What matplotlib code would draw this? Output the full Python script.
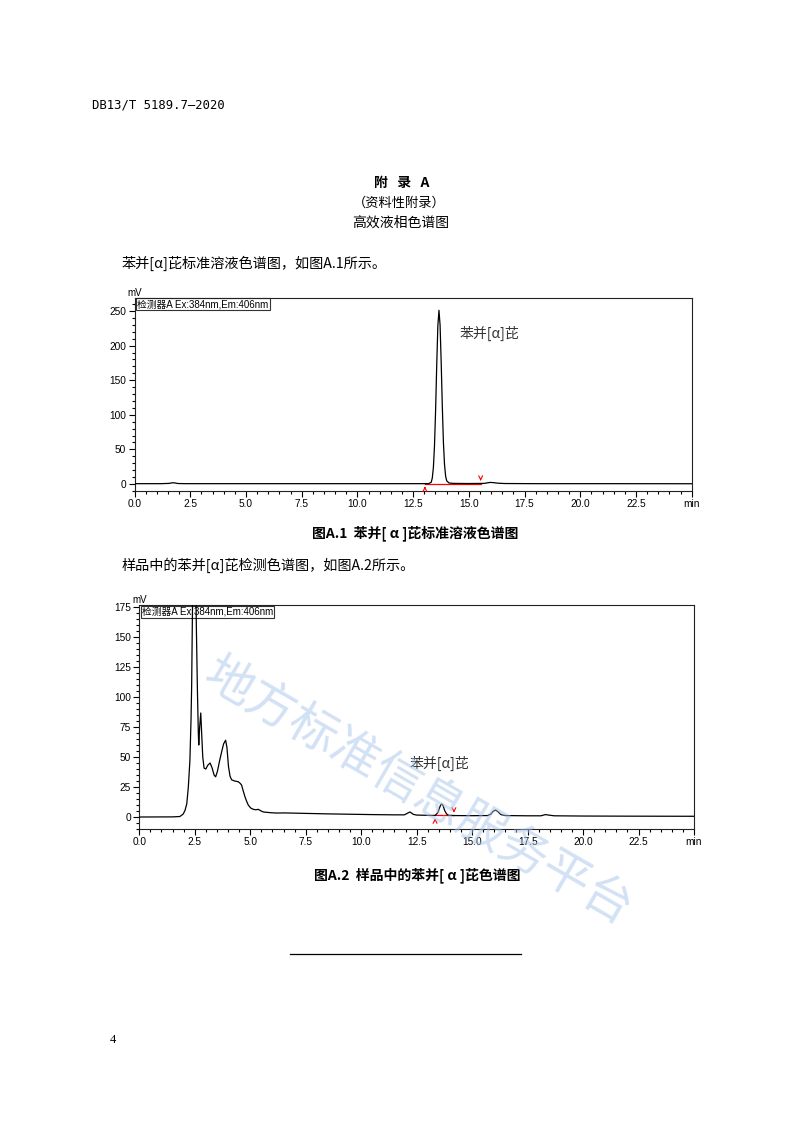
import matplotlib
matplotlib.use("Agg")
import matplotlib.pyplot as plt
from matplotlib.lines import Line2D
from matplotlib.ticker import MultipleLocator, FixedLocator

plt.rcParams['font.family'] = ['Liberation Sans', 'Noto Sans CJK SC', 'DejaVu Sans']
CJK = ['Noto Sans CJK SC', 'DejaVu Sans']

# --- data (time in min, signal in mV) ---
std_time = [0.0, 1.2, 1.55, 1.7, 1.8, 1.95, 2.3, 5.0, 8.0, 11.0, 12.8, 13.2,
            13.31, 13.36, 13.41, 13.46, 13.51, 13.56, 13.61, 13.66, 13.71,
            13.76, 13.81, 13.86, 13.91, 13.96, 14.01, 14.11, 14.3, 15.0,
            15.7, 15.85, 15.97, 16.1, 16.3, 16.6, 18.0, 21.0, 25.0]
std_mv = [0.5, 0.5, 0.9, 1.8, 1.6, 0.7, 0.5, 0.5, 0.5, 0.5, 0.5, 0.6,
          2.4, 8.4, 23.7, 55.3, 107.0, 172.0, 228.0, 251.0, 230.0,
          176.0, 113.0, 60.0, 28.0, 11.0, 4.5, 1.5, 0.9, 0.7,
          0.9, 1.8, 2.3, 2.0, 1.2, 0.7, 0.5, 0.5, 0.4]

smp_time = [0.0, 1.5, 1.83, 1.91, 1.98, 2.06, 2.14, 2.21, 2.28, 2.33, 2.36,
            2.40, 2.46, 2.52, 2.57, 2.62, 2.66, 2.68, 2.72, 2.77, 2.81, 2.86,
            2.92, 3.0, 3.08, 3.19, 3.28, 3.37, 3.44, 3.52, 3.62, 3.72, 3.80,
            3.89, 3.95, 4.02, 4.09, 4.16, 4.3, 4.46, 4.55, 4.61, 4.68, 4.76,
            4.84, 4.91, 5.02, 5.14, 5.25, 5.36, 5.47, 5.59, 5.9, 6.2, 6.5,
            6.8, 7.5, 8.5, 9.5, 10.5, 11.5, 11.95, 12.05, 12.2, 12.35, 12.5,
            13.0, 13.33, 13.45, 13.52, 13.58, 13.63, 13.69, 13.76, 13.85,
            13.95, 14.18, 15.0, 15.7, 15.85, 15.95, 16.06, 16.16, 16.3, 16.5,
            17.5, 18.1, 18.3, 18.45, 18.7, 20.0, 22.0, 25.0]
smp_mv = [0.0, 0.1, 0.4, 1.5, 2.5, 5.5, 11.0, 25.0, 47.0, 80.0, 110.0,
          180.0, 300.0, 230.0, 160.0, 105.0, 70.0, 60.0, 75.0, 86.7, 70.0, 50.0,
          40.7, 40.0, 43.0, 45.0, 41.0, 35.0, 33.5, 38.0, 47.0, 55.0, 61.0,
          64.0, 58.0, 42.0, 34.0, 31.0, 30.0, 29.4, 28.0, 26.6, 22.0, 17.0,
          13.0, 10.0, 7.5, 6.4, 6.0, 6.4, 5.2, 4.2, 3.6, 3.3, 3.4,
          3.3, 3.0, 2.6, 2.3, 2.0, 1.8, 1.8, 2.8, 4.2, 2.2, 1.6,
          1.4, 1.3, 3.5, 7.0, 10.0, 10.8, 9.5, 5.5, 2.5,
          1.4, 1.2, 1.1, 1.2, 2.5, 4.8, 5.8, 4.5, 2.0, 1.2,
          1.0, 1.0, 2.0, 1.6, 1.0, 0.8, 0.7, 0.6]

# integration baselines (start, end) for the benzo[a]pyrene peak
std_base_t = [13.03, 15.53]
std_base_mv = [0.5, 0.5]
smp_base_t = [13.33, 14.18]
smp_base_mv = [1.3, 1.2]

x_major = [0.0, 2.5, 5.0, 7.5, 10.0, 12.5, 15.0, 17.5, 20.0, 22.5, 25.0]
x_labels = ['0.0', '2.5', '5.0', '7.5', '10.0', '12.5', '15.0', '17.5', '20.0', '22.5', 'min']
std_y_major = [0, 50, 100, 150, 200, 250]
smp_y_major = [0, 25, 50, 75, 100, 125, 150, 175]

detector = '检测器A Ex:384nm,Em:406nm'
peak_name = '苯并[α]芘'

W, H = 793, 1122


def fx(x):
    return x / W


def fy(y):
    return 1 - y / H


fig = plt.figure(figsize=(W / 100, H / 100), dpi=100)
fig.patch.set_facecolor('white')


def setup_axes(ax, ylim, ymajor, yminor):
    ax.set_xlim(0, 25)
    ax.set_ylim(*ylim)
    ax.xaxis.set_major_locator(FixedLocator(x_major))
    ax.set_xticklabels(x_labels)
    ax.xaxis.set_minor_locator(MultipleLocator(0.5))
    ax.yaxis.set_major_locator(FixedLocator(ymajor))
    ax.yaxis.set_minor_locator(MultipleLocator(yminor))
    ax.tick_params(which='both', direction='out', width=0.8, labelsize=7.3, pad=1.5)
    ax.tick_params(which='major', length=4.5)
    ax.tick_params(which='minor', length=2.5)
    for s in ax.spines.values():
        s.set_linewidth(0.8)
        s.set_color('#222222')
    ax.text(0, 1.0, 'mV', transform=ax.transAxes, ha='center', va='bottom', fontsize=7)
    ax.text(0.005, 0.993, detector, transform=ax.transAxes, ha='left', va='top',
            fontsize=7.0, zorder=1,
            bbox=dict(boxstyle='square,pad=0.1', facecolor='white', edgecolor='#333333', lw=0.8))


def draw_base(ax, bt, bmv, alen):
    ax.plot(bt, bmv, color='red', lw=0.9, zorder=2)
    ax.annotate('', xy=(bt[0], bmv[0]), xytext=(bt[0], bmv[0] - alen),
                arrowprops=dict(arrowstyle='->', color='red', lw=0.8, mutation_scale=7))
    ax.annotate('', xy=(bt[1], bmv[1]), xytext=(bt[1], bmv[1] + alen),
                arrowprops=dict(arrowstyle='->', color='red', lw=0.8, mutation_scale=7))


# chart A.1 - standard solution
ax1 = fig.add_axes([fx(134.5), fy(491), fx(691.7 - 134.5), (491 - 298) / H])
setup_axes(ax1, (-10.1, 268.8), std_y_major, 10)
draw_base(ax1, std_base_t, std_base_mv, 11)
ax1.plot(std_time, std_mv, color='black', lw=0.9, zorder=3)
ax1.text(14.6, 218, peak_name, family=CJK, fontsize=10, color='#333333', va='center')

# chart A.2 - sample
ax2 = fig.add_axes([fx(139.3), fy(829), fx(694 - 139.3), (829 - 605) / H])
setup_axes(ax2, (-10, 176.7), smp_y_major, 5)
draw_base(ax2, smp_base_t, smp_base_mv, 7)
ax2.plot(smp_time, smp_mv, color='black', lw=0.9, zorder=3)
ax2.text(12.2, 45, peak_name, family=CJK, fontsize=10, color='#333333', va='center')

# page text
fig.text(fx(92), fy(105), 'DB13/T 5189.7—2020', family='DejaVu Sans Mono', fontsize=8.8,
         ha='left', va='center')
fig.text(fx(402), fy(183), '附   录   A', family=CJK, fontsize=10, fontweight='bold',
         ha='center', va='center')
fig.text(fx(399), fy(203), '（资料性附录）', family=CJK, fontsize=9.5, ha='center', va='center')
fig.text(fx(401), fy(223), '高效液相色谱图', family=CJK, fontsize=10, ha='center', va='center')
fig.text(fx(122), fy(263), '苯并[α]芘标准溶液色谱图，如图A.1所示。', family=CJK, fontsize=10.2,
         ha='left', va='center')
fig.text(fx(415), fy(533), '图A.1  苯并[ α ]芘标准溶液色谱图', family=CJK, fontsize=10,
         fontweight='bold', ha='center', va='center')
fig.text(fx(122), fy(565), '样品中的苯并[α]芘检测色谱图，如图A.2所示。', family=CJK, fontsize=10.2,
         ha='left', va='center')
fig.text(fx(417), fy(875), '图A.2  样品中的苯并[ α ]芘色谱图', family=CJK, fontsize=10,
         fontweight='bold', ha='center', va='center')
fig.add_artist(Line2D([fx(290), fx(521)], [fy(954), fy(954)], color='black', lw=0.9))
fig.text(fx(110), fy(1040), '4', family='Liberation Serif', fontsize=9, ha='left', va='center')

# watermark
fig.text(fx(418), fy(792), '地方标准信息服务平台', family=CJK, fontsize=35, rotation=-30,
         rotation_mode='anchor', color='#a6c3ea', alpha=0.5, ha='center', va='center', zorder=10)

fig.savefig('out.png', dpi=100, facecolor='white')
